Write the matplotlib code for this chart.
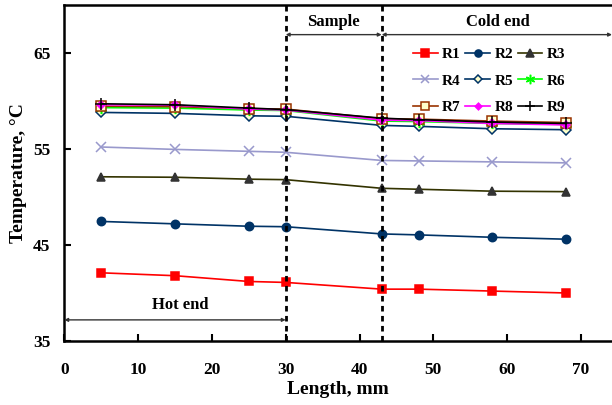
import matplotlib
matplotlib.use("Agg")
import matplotlib.pyplot as plt

plt.rcParams['font.family'] = ['Liberation Serif', 'DejaVu Serif']
plt.rcParams['font.weight'] = 'bold'

length = [5, 15, 25, 30, 43, 48, 58, 68]

R1 = [42.1, 41.8, 41.2, 41.1, 40.4, 40.4, 40.2, 40.0]
R2 = [47.45, 47.2, 46.95, 46.9, 46.15, 46.05, 45.8, 45.6]
R3 = [52.1, 52.05, 51.85, 51.8, 50.9, 50.8, 50.6, 50.55]
R4 = [55.2, 54.95, 54.75, 54.65, 53.8, 53.75, 53.65, 53.55]
R5 = [58.8, 58.7, 58.45, 58.4, 57.45, 57.35, 57.1, 57.0]
R6 = [59.3, 59.25, 59.05, 59.0, 57.9, 57.85, 57.65, 57.55]
R7 = [59.45, 59.4, 59.2, 59.15, 58.15, 58.1, 57.9, 57.75]
R8 = [59.6, 59.55, 59.15, 59.05, 58.0, 57.95, 57.65, 57.5]
R9 = [59.7, 59.6, 59.25, 59.1, 58.2, 58.05, 57.8, 57.65]

fig = plt.figure(figsize=(6.12, 4.05), dpi=100)
ax = fig.add_axes([0.105, 0.158, 0.895, 0.83])

# (data, line colour, marker, marker face, marker edge, size)
styles = [
    (R1, '#FF0000', 's', '#FF0000', '#FF0000', 6),
    (R2, '#003366', 'o', '#003366', '#003366', 6),
    (R3, '#333300', '^', '#333333', '#333333', 6),
    (R4, '#9999CC', 'x', '#9999CC', '#9999CC', 7),
    (R5, '#003366', 'D', '#FFFFCC', '#003366', 5),
    (R6, '#00FF00', (6, 2, 0), '#00FF00', '#00FF00', 8),
    (R7, '#993300', 's', '#FFFFCC', '#993300', 7),
    (R8, '#FF00FF', 'D', '#FF00FF', '#FF00FF', 4),
    (R9, '#000000', '+', '#000000', '#000000', 9),
]
lines = []
for i, (vals, c, m, fc, ec, ms) in enumerate(styles):
    ln, = ax.plot(length, vals, color=c, lw=1.2, marker=m, markersize=ms,
                  markerfacecolor=fc, markeredgecolor=ec, markeredgewidth=1.1,
                  label='R%d' % (i + 1))
    lines.append(ln)

ax.set_xlim(0, 74.2)
ax.set_ylim(35, 70)
ax.set_xticks(range(0, 71, 10))
ax.set_yticks([35, 45, 55, 65])

# section boundaries
for xv in (30, 43):
    ax.axvline(xv, color='black', lw=2, linestyle=(0, (2, 1.6)))

arrow = dict(arrowstyle='<|-|>', color='#333333', lw=1, mutation_scale=5,
             shrinkA=0, shrinkB=0)
ax.annotate('', xy=(30, 66.9), xytext=(43, 66.9), arrowprops=arrow)
ax.annotate('', xy=(43, 66.9), xytext=(74.2, 66.9), arrowprops=arrow)
ax.annotate('', xy=(0, 37.2), xytext=(30, 37.2), arrowprops=arrow)
ax.text(36.5, 68.2, 'Sample', ha='center', va='center', fontsize=12,
        fontweight='bold')
ax.text(58.7, 68.2, 'Cold end', ha='center', va='center', fontsize=12,
        fontweight='bold')
ax.text(15.7, 38.8, 'Hot end', ha='center', va='center', fontsize=12,
        fontweight='bold')

ax.set_xlabel('Length, mm', fontsize=14, fontweight='bold', labelpad=2)
ax.set_ylabel('Temperature, \u00b0C', fontsize=14, fontweight='bold', labelpad=4)
ax.tick_params(direction='in', length=5, width=1.5, labelsize=12.5)
ax.tick_params(axis='x', pad=15)
ax.tick_params(axis='y', pad=10)
for lab in ax.get_xticklabels() + ax.get_yticklabels():
    lab.set_fontweight('bold')
for s in ax.spines.values():
    s.set_linewidth(1.8)
ax.spines['right'].set_visible(False)

# row-major legend: R1 R2 R3 / R4 R5 R6 / R7 R8 R9
order = [0, 3, 6, 1, 4, 7, 2, 5, 8]
ax.legend([lines[k] for k in order], [lines[k].get_label() for k in order],
          ncol=3, loc='upper right', bbox_to_anchor=(0.94, 0.915), frameon=False,
          prop={'weight': 'bold', 'size': 11}, handlelength=1.6,
          handletextpad=0.3, columnspacing=0.3, labelspacing=0.85,
          markerscale=0.85)

fig.savefig('out.png', dpi=100)
